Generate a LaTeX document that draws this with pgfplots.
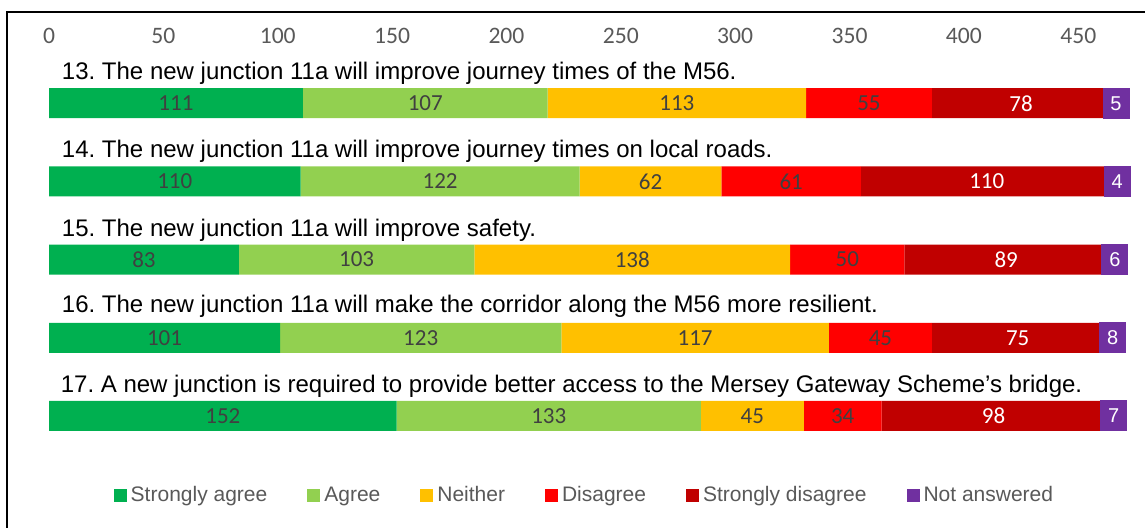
\documentclass[border=0pt]{standalone}
\usepackage{pgfplots}
\pgfplotsset{compat=1.18}
\usepackage{pgfplotstable}
\usepackage{fontspec}
\setmainfont{Liberation Sans}
\newfontfamily\calibri{Carlito}
\frenchspacing

\definecolor{sagree}{HTML}{00B050}
\definecolor{agree}{HTML}{92D050}
\definecolor{neither}{HTML}{FFC000}
\definecolor{disagree}{HTML}{FF0000}
\definecolor{sdisagree}{HTML}{C00000}
\definecolor{noans}{HTML}{7030A0}
\definecolor{lbl}{HTML}{404040}
\definecolor{tck}{HTML}{595959}

% responses per question (q = row from top)
\pgfplotstableread{
q sa ag ne di sd na
0 111 107 113 55 78 5
1 110 122 62 61 110 4
2 83 103 138 50 89 6
3 101 123 117 45 75 8
4 152 133 45 34 98 7
}\survey

\pgfplotsset{
  common/.style={
    scale only axis, width=537.5pt, height=203.25pt,
    at={(24.5pt,36pt)}, anchor=south west,
    xmin=0, xmax=470, ymin=-0.7, ymax=4.5, y dir=reverse,
    /pgf/number format/assume math mode=true,
  },
  lab/.style={only marks, mark=none, nodes near coords, point meta=explicit,
    nodes near coords style={anchor=center, font=\calibri\fontsize{11.5}{13}\selectfont, text=#1}},
}

\begin{document}
\begin{tikzpicture}
\useasboundingbox (0,0) rectangle (572.5pt,263.5pt);
\draw[black, line width=0.8pt] (3.5pt,-2pt) -- (3.5pt,257.5pt) -- (580pt,257.5pt);

\begin{axis}[
  common,
  xbar stacked, bar width=15pt,
  hide y axis,
  axis x line*=top,
  x axis line style={draw=none},
  major tick length=0pt,
  xtick={0,50,...,450},
  xticklabel style={font=\calibri\fontsize{11.8}{13}\selectfont, text=tck, yshift=-1pt},
  legend columns=6,
  legend cell align=left,
  legend style={at={(0.499,-0.1)}, anchor=center, draw=none,
    font=\fontsize{10.5}{12}\selectfont, text=tck,
    /tikz/every even column/.append style={column sep=18pt}},
  legend image code/.code={\fill[#1] (0pt,-3.2pt) rectangle (6.5pt,3.3pt);},
]
\addplot[fill=sagree, draw=none] table[x=sa, y=q] {\survey};
\addplot[fill=agree, draw=none] table[x=ag, y=q] {\survey};
\addplot[fill=neither, draw=none] table[x=ne, y=q] {\survey};
\addplot[fill=disagree, draw=none] table[x=di, y=q] {\survey};
\addplot[fill=sdisagree, draw=none] table[x=sd, y=q] {\survey};
\addplot[fill=noans, draw=none] table[x=na, y=q] {\survey};
\legend{Strongly agree, Agree, Neither, Disagree, Strongly disagree, Not answered}
\end{axis}

\begin{axis}[common, hide axis]
\addplot[lab=lbl] table[x expr=\thisrow{sa}/2, y=q, meta=sa] {\survey};
\addplot[lab=lbl] table[x expr=\thisrow{sa}+\thisrow{ag}/2, y=q, meta=ag] {\survey};
\addplot[lab=lbl] table[x expr=\thisrow{sa}+\thisrow{ag}+\thisrow{ne}/2, y=q, meta=ne] {\survey};
\addplot[lab=lbl] table[x expr=\thisrow{sa}+\thisrow{ag}+\thisrow{ne}+\thisrow{di}/2, y=q, meta=di] {\survey};
\addplot[lab=white] table[x expr=\thisrow{sa}+\thisrow{ag}+\thisrow{ne}+\thisrow{di}+\thisrow{sd}/2, y=q, meta=sd] {\survey};
% "not answered" labels sit in a purple box wider than the segment
\addplot[only marks, mark=none, nodes near coords, point meta=explicit,
  nodes near coords style={anchor=center, font=\fontsize{10}{12}\selectfont, text=white,
    fill=noans, minimum width=13.5pt, minimum height=15.5pt, inner sep=0pt}]
  table[x expr=\thisrow{sa}+\thisrow{ag}+\thisrow{ne}+\thisrow{di}+\thisrow{sd}+\thisrow{na}/2, y=q, meta=na] {\survey};

\begin{scope}[every node/.style={anchor=west, font=\fontsize{12}{14}\selectfont, inner sep=0pt}]
\node at (axis cs:5.5,-0.38) {13. The new junction 11a will improve journey times of the M56.};
\node at (axis cs:5.5,0.62) {14. The new junction 11a will improve journey times on local roads.};
\node at (axis cs:5.5,1.62) {15. The new junction 11a will improve safety.};
\node at (axis cs:5.5,2.6) {16. The new junction 11a will make the corridor along the M56 more resilient.};
\node at (axis cs:5,3.62) {17. A new junction is required to provide better access to the Mersey Gateway Scheme’s bridge.};
\end{scope}
\end{axis}
\end{tikzpicture}
\end{document}
